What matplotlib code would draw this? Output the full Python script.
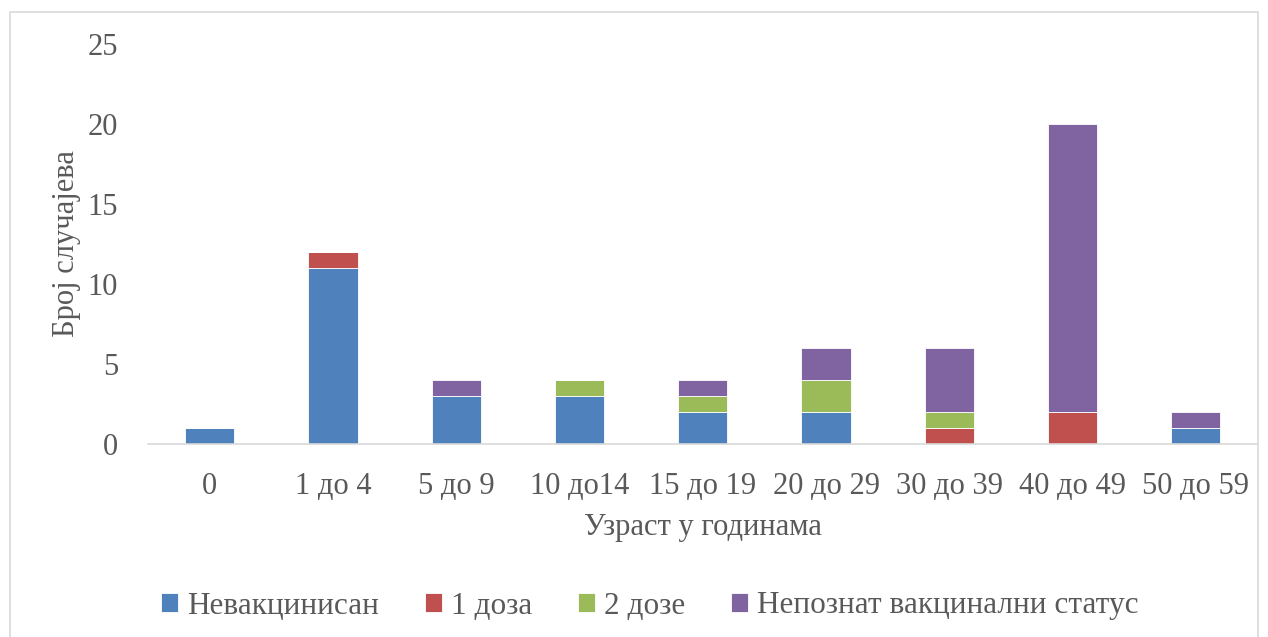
import matplotlib.pyplot as plt
import numpy as np
from matplotlib.patches import Rectangle

plt.rcParams['font.family'] = ['Liberation Serif', 'DejaVu Serif']

categories = ['0', '1 до 4', '5 до 9', '10 до14', '15 до 19', '20 до 29', '30 до 39', '40 до 49', '50 до 59']
nevakcinisan = [1, 11, 3, 3, 2, 2, 0, 0, 1]
jedna_doza = [0, 1, 0, 0, 0, 0, 1, 2, 0]
dve_doze = [0, 0, 0, 1, 1, 2, 1, 0, 0]
nepoznat = [0, 0, 1, 0, 1, 2, 4, 18, 1]

series = [
    ('Невакцинисан', nevakcinisan, '#4F81BD'),
    ('1 доза', jedna_doza, '#C0504D'),
    ('2 дозе', dve_doze, '#9BBB59'),
    ('Непознат вакцинални статус', nepoznat, '#8064A2'),
]

text_color = '#595959'

fig = plt.figure(figsize=(12.68, 6.37), dpi=100)
ax = fig.add_axes([0.1167, 0.303, 0.875, 0.628])

x = np.arange(len(categories))
bottom = np.zeros(len(categories))
for name, vals, color in series:
    vals = np.array(vals, dtype=float)
    ax.bar(x, vals, bottom=bottom, width=0.4, color=color, label=name,
           edgecolor='white', linewidth=0.6)
    bottom += vals

ax.set_xlim(-0.5, len(categories) - 0.5)
ax.set_ylim(0, 25)
ax.set_yticks([0, 5, 10, 15, 20, 25])
ax.set_xticks(x)
ax.set_xticklabels(categories)
ax.tick_params(axis='both', length=0, labelsize=22, colors=text_color)
ax.tick_params(axis='x', pad=20)
ax.tick_params(axis='y', pad=21.6)

for s in ['top', 'right', 'left']:
    ax.spines[s].set_visible(False)
ax.spines['bottom'].set_color('#D9D9D9')
ax.spines['bottom'].set_linewidth(1.2)

ax.set_xlabel('Узраст у годинама', fontsize=22, color=text_color)
ax.xaxis.set_label_coords(0.5, -(528 - 444) / 400, transform=ax.transAxes)
ax.xaxis.label.set_va('center')
ax.set_ylabel('Број случајева', fontsize=22, color=text_color)
ax.yaxis.set_label_coords((66 - 148) / 1110, 0.5, transform=ax.transAxes)
ax.yaxis.label.set_va('center')

leg = fig.legend(loc='center', bbox_to_anchor=(650 / 1268, 1 - 606 / 637), ncol=4, frameon=False,
                 fontsize=22.5, labelcolor=text_color, handlelength=0.55, handleheight=0.55,
                 handletextpad=0.3, columnspacing=1.45)

fig.patches.append(Rectangle((10 / 1268, -0.1), (1258 - 10) / 1268, 1 - 12 / 637 + 0.1,
                             transform=fig.transFigure, fill=False,
                             edgecolor='#D9D9D9', linewidth=1.2))

fig.savefig('out.png', dpi=100)
